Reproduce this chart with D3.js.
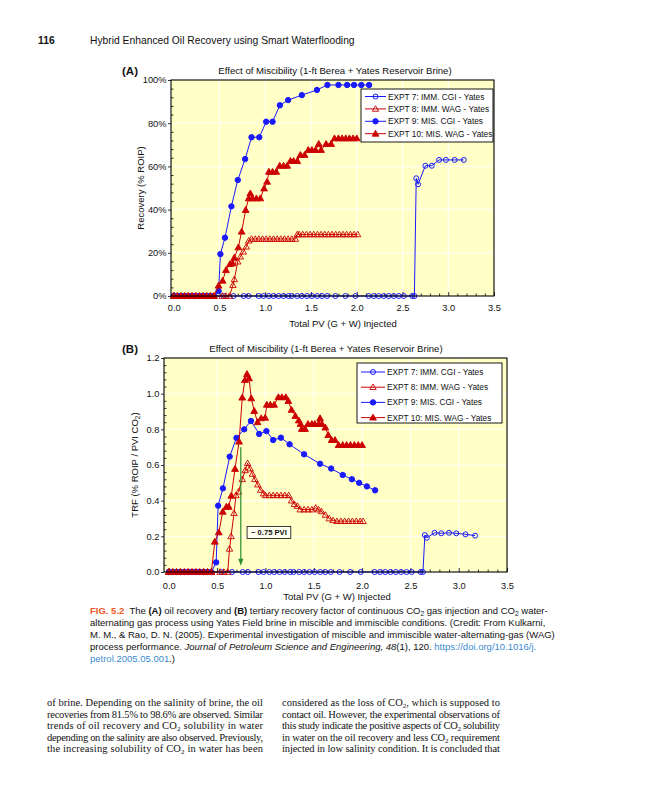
<!DOCTYPE html>
<html>
<head>
<meta charset="utf-8">
<script src="https://cdn.jsdelivr.net/npm/d3@7"></script>
<style>
body{margin:0;background:#fff;}
#page{position:relative;width:648px;height:800px;overflow:hidden;font-family:"Liberation Sans",Arial,sans-serif;color:#111;}
#fig{position:absolute;left:0;top:0;}
.hdr{position:absolute;top:35px;font-size:10.3px;white-space:nowrap;}
#caption{position:absolute;left:90px;top:605px;font-size:9.5px;line-height:11.9px;white-space:nowrap;}
#caption .fig{color:#ef5a28;font-weight:bold;}
#caption a{color:#3b8bd0;text-decoration:none;}
#caption sub{font-size:70%;vertical-align:-2px;line-height:0;}
</style>
</head>
<body>
<div id="page">
<svg id="fig" width="648" height="800"></svg>
<div class="hdr" style="left:38px;font-weight:bold;">116</div>
<div class="hdr" style="left:90px;">Hybrid Enhanced Oil Recovery using Smart Waterflooding</div>
<div id="caption">
<span class="fig">FIG. 5.2</span>&nbsp; The <b>(A)</b> oil recovery and <b>(B)</b> tertiary recovery factor of continuous CO<sub>2</sub> gas injection and CO<sub>2</sub> water-<br>
alternating gas process using Yates Field brine in miscible and immiscible conditions. (Credit: From Kulkarni,<br>
M. M., &amp; Rao, D. N. (2005). Experimental investigation of miscible and immiscible water-alternating-gas (WAG)<br>
process performance. <i>Journal of Petroleum Science and Engineering, 48</i>(1), 120. <a>https://doi.org/10.1016/j.</a><br>
<a>petrol.2005.05.001</a>.)
</div>
</div>
<script>
// legend labels
var seriesNames = ["EXPT 7: IMM. CGI - Yates", "EXPT 8: IMM. WAG - Yates", "EXPT 9: MIS. CGI - Yates", "EXPT 10: MIS. WAG - Yates"];

// tick labels
var pvTicks = [0, 0.5, 1.0, 1.5, 2.0, 2.5, 3.0, 3.5];
var recTicks = [0, 20, 40, 60, 80, 100];
var trfTicks = [0, 0.2, 0.4, 0.6, 0.8, 1.0, 1.2];

// EXPT 7 (immiscible CGI) - shared PV for both panels
var pv7 = [0, 0.04, 0.08, 0.12, 0.16, 0.20, 0.24, 0.28, 0.32, 0.36, 0.40, 0.44,
  0.545, 0.654, 0.764, 0.818, 0.928, 0.98, 1.04, 1.09, 1.147, 1.20, 1.256, 1.29, 1.35, 1.40, 1.457, 1.51,
  1.567, 1.62, 1.676, 1.767, 1.876, 1.986, 2.13, 2.186, 2.24, 2.295, 2.35, 2.405, 2.46, 2.514, 2.606, 2.63,
  2.65, 2.67, 2.75, 2.82, 2.90, 2.975, 3.07, 3.17];
var rec7 = [0, 0, 0, 0, 0, 0, 0, 0, 0, 0, 0, 0,
  0, 0, 0, 0, 0, 0, 0, 0, 0, 0, 0, 0, 0, 0, 0, 0,
  0, 0, 0, 0, 0, 0, 0, 0, 0, 0, 0, 0, 0, 0, 0, 0,
  54.5, 51.7, 60.3, 60.3, 63, 63, 63, 63];
var trf7 = [0, 0, 0, 0, 0, 0, 0, 0, 0, 0, 0, 0,
  0, 0, 0, 0, 0, 0, 0, 0, 0, 0, 0, 0, 0, 0, 0, 0,
  0, 0, 0, 0, 0, 0, 0, 0, 0, 0, 0, 0, 0, 0, 0, 0,
  0.207, 0.192, 0.22, 0.217, 0.22, 0.217, 0.211, 0.204];

// EXPT 9 (miscible CGI) - shared PV
var pv9 = [0, 0.04, 0.08, 0.12, 0.16, 0.20, 0.24, 0.28, 0.32, 0.36, 0.40, 0.44,
  0.49, 0.51, 0.56, 0.63, 0.70, 0.78, 0.85, 0.935, 1.01, 1.08, 1.16, 1.25, 1.40, 1.565, 1.68, 1.80, 1.895, 1.97, 2.05, 2.135];
var rec9 = [0, 0, 0, 0, 0, 0, 0, 0, 0, 0, 0, 0,
  2.3, 19.4, 27, 41.5, 53.7, 63.4, 73.5, 73.5, 80.7, 80.7, 88.3, 90.7, 93, 95.4, 97.7, 97.7, 97.7, 97.7, 97.7, 97.7];
var trf9 = [0, 0, 0, 0, 0, 0, 0, 0, 0, 0, 0, 0,
  0.054, 0.372, 0.469, 0.647, 0.752, 0.80, 0.847, 0.774, 0.79, 0.74, 0.753, 0.716, 0.66, 0.607, 0.58, 0.544, 0.52, 0.50, 0.48, 0.458];

// EXPT 8 (immiscible WAG) - recovery panel
var pvA8 = [0, 0.04, 0.08, 0.12, 0.16, 0.20, 0.24, 0.28, 0.32, 0.36, 0.40, 0.44, 0.53, 0.57, 0.61,
  0.647, 0.662, 0.70, 0.728, 0.76, 0.793, 0.82,
  0.85, 0.89, 0.93, 0.97, 1.01, 1.05, 1.09, 1.13, 1.17, 1.21, 1.25, 1.29, 1.33,
  1.35, 1.37, 1.41, 1.45, 1.49, 1.53, 1.57, 1.61, 1.65, 1.69, 1.73, 1.77, 1.81, 1.85, 1.89, 1.93, 1.97, 2.01];
var recA8 = [0, 0, 0, 0, 0, 0, 0, 0, 0, 0, 0, 0, 0, 0, 0,
  5, 7.7, 15.9, 18.2, 20.5, 22.8, 25.6,
  26.4, 26.4, 26.4, 26.4, 26.4, 26.4, 26.4, 26.4, 26.4, 26.4, 26.4, 26.4, 26.4,
  28.5, 28.5, 28.5, 28.5, 28.5, 28.5, 28.5, 28.5, 28.5, 28.5, 28.5, 28.5, 28.5, 28.5, 28.5, 28.5, 28.5, 28.5];

// EXPT 8 - TRF panel
var pvB8 = [0, 0.04, 0.08, 0.12, 0.16, 0.20, 0.24, 0.28, 0.32, 0.36, 0.40, 0.44, 0.53, 0.57, 0.61,
  0.628, 0.644, 0.675, 0.695, 0.72, 0.76, 0.79, 0.815, 0.84, 0.865, 0.89, 0.92, 0.95, 0.98,
  1.0, 1.04, 1.08, 1.12, 1.16, 1.20, 1.24, 1.27, 1.30, 1.33, 1.36, 1.40, 1.44, 1.48, 1.52, 1.55,
  1.58, 1.62, 1.66, 1.70, 1.74, 1.78, 1.82, 1.86, 1.90, 1.94, 1.98, 2.01];
var trfB8 = [0, 0, 0, 0, 0, 0, 0, 0, 0, 0, 0, 0, 0, 0, 0,
  0.13, 0.20, 0.33, 0.43, 0.45, 0.52, 0.57, 0.61, 0.58, 0.55, 0.52, 0.49, 0.46, 0.44,
  0.43, 0.43, 0.43, 0.43, 0.43, 0.43, 0.43, 0.40, 0.38, 0.37, 0.35, 0.35, 0.35, 0.35, 0.36, 0.35,
  0.34, 0.32, 0.30, 0.29, 0.285, 0.285, 0.285, 0.285, 0.285, 0.285, 0.285, 0.285];

// EXPT 10 (miscible WAG) - recovery panel
var pvA10 = [0, 0.04, 0.08, 0.12, 0.16, 0.20, 0.24, 0.28, 0.32, 0.36, 0.40, 0.44,
  0.49, 0.534, 0.571, 0.615, 0.643, 0.662, 0.706, 0.742, 0.786, 0.819, 0.837, 0.859, 0.903, 0.946,
  0.987, 1.02, 1.04, 1.08, 1.12, 1.158, 1.20, 1.24, 1.275, 1.31, 1.35, 1.384, 1.43, 1.47, 1.51, 1.55,
  1.585, 1.61, 1.665, 1.72, 1.757, 1.80, 1.84, 1.88, 1.92, 1.96, 2.0];
var recA10 = [0, 0, 0, 0, 0, 0, 0, 0, 0, 0, 0, 0,
  4.8, 7.1, 12, 14.8, 15.1, 17.7, 22.5, 29.8, 39.8, 45.2, 47.5, 45.2, 45.2, 45.2,
  49.8, 52.9, 57.5, 57.5, 57.5, 60.3, 60.3, 60.3, 62.5, 62.5, 62.5, 65.3, 65.3, 67.6, 67.6, 67.6,
  70.4, 67.6, 70.4, 70.4, 73, 73, 73, 73, 73, 73, 73];

// EXPT 10 - TRF panel
var pvB10 = [0, 0.04, 0.08, 0.12, 0.16, 0.20, 0.24, 0.28, 0.32, 0.36, 0.40, 0.44,
  0.476, 0.517, 0.558, 0.596, 0.62, 0.647, 0.685, 0.727, 0.76, 0.788, 0.809, 0.83, 0.853, 0.884, 0.918, 0.956,
  0.997, 1.014, 1.05, 1.09, 1.134, 1.17, 1.21, 1.237, 1.27, 1.31, 1.345, 1.363, 1.376, 1.41, 1.44, 1.48,
  1.51, 1.55, 1.565, 1.585, 1.62, 1.65, 1.685, 1.72, 1.757, 1.80, 1.84, 1.88, 1.92, 1.96, 2.0];
var trfB10 = [0, 0, 0, 0, 0, 0, 0, 0, 0, 0, 0, 0,
  0.17, 0.222, 0.338, 0.366, 0.366, 0.428, 0.578, 0.731, 0.978, 1.077, 1.11, 1.086, 0.974, 0.903, 0.84, 0.862,
  0.865, 0.938, 0.938, 0.938, 0.98, 0.98, 0.98, 0.959, 0.909, 0.875, 0.85, 0.83, 0.802, 0.802, 0.83, 0.83,
  0.83, 0.83, 0.862, 0.83, 0.81, 0.768, 0.74, 0.74, 0.712, 0.712, 0.712, 0.712, 0.712, 0.712, 0.712];

// "~ 0.75 PVI" marker in panel B
var pviArrow = {pv: 0.745, from: 0.70, to: 0.035, labelPV: 0.81, labelTRF: 0.205, text: "~ 0.75 PVI"};

// body text, two justified columns; {s:"2"} is a subscript
var bodyLeft = [
  ["of brine. Depending on the salinity of brine, the oil"],
  ["recoveries from 81.5% to 98.6% are observed. Similar"],
  ["trends of oil recovery and CO", {s: "2"}, " solubility in water"],
  ["depending on the salinity are also observed. Previously,"],
  ["the increasing solubility of CO", {s: "2"}, " in water has been"]
];
var bodyRight = [
  ["considered as the loss of CO", {s: "2"}, ", which is supposed to"],
  ["contact oil. However, the experimental observations of"],
  ["this study indicate the positive aspects of CO", {s: "2"}, " solubility"],
  ["in water on the oil recovery and less CO", {s: "2"}, " requirement"],
  ["injected in low salinity condition. It is concluded that"]
];

var BLUE = "#1a1aff", RED = "#cc0000";
var styles = [
  {color: BLUE, shape: "circle", filled: false},
  {color: RED, shape: "tri", filled: false},
  {color: BLUE, shape: "circle", filled: true},
  {color: RED, shape: "tri", filled: true}
];

function triPath(s){
  var h = s * Math.sqrt(3) / 2;
  return "M0," + (-2 * h / 3) + "L" + (s / 2) + "," + (h / 3) + "L" + (-s / 2) + "," + (h / 3) + "Z";
}

function marker(g, st, cx, cy){
  if (st.shape == "circle") {
    g.append("circle").attr("cx", cx).attr("cy", cy).attr("r", st.filled ? 2.7 : 2.5)
      .attr("fill", st.filled ? st.color : "none").attr("stroke", st.color).attr("stroke-width", 1);
  } else {
    g.append("path").attr("d", triPath(st.filled ? 6.8 : 6.4))
      .attr("transform", "translate(" + cx + "," + (cy + 0.5) + ")")
      .attr("fill", st.filled ? st.color : "none").attr("stroke", st.color).attr("stroke-width", 0.9);
  }
}

var svg = d3.select("#fig");
svg.attr("font-family", "Liberation Sans, Arial, sans-serif").attr("fill", "#111");

function drawPanel(p){
  var g = svg.append("g");
  var x = d3.scaleLinear().domain(p.xDomain).range(p.xRange);
  var y = d3.scaleLinear().domain(p.yDomain).range(p.yRange);
  var left = p.xRange[0], right = p.xRange[1], top = p.yRange[1], bottom = p.yRange[0];

  g.append("rect").attr("x", left).attr("y", top).attr("width", right - left).attr("height", bottom - top)
    .attr("fill", "#ffffc6");

  // white grid
  g.selectAll(".gx").data(pvTicks.filter(function(d){ return d > 0 && d < 3.5; })).enter().append("line")
    .attr("x1", function(d){ return x(d); }).attr("x2", function(d){ return x(d); })
    .attr("y1", top).attr("y2", bottom).attr("stroke", "#fff").attr("stroke-width", 1);
  g.selectAll(".gy").data(p.yTicks.slice(1, -1)).enter().append("line")
    .attr("x1", left).attr("x2", right).attr("y1", function(d){ return y(d); }).attr("y2", function(d){ return y(d); })
    .attr("stroke", "#fff").attr("stroke-width", 1);

  // axes
  var minorX = d3.range(0.1, 3.5, 0.1).filter(function(d){ return Math.abs(d * 2 - Math.round(d * 2)) > 0.01; });
  g.append("g").attr("transform", "translate(0," + bottom + ")")
    .call(d3.axisBottom(x).tickValues(pvTicks).tickFormat(d3.format(".1f")).tickSize(-4).tickPadding(p.xPad));
  g.append("g").attr("transform", "translate(0," + bottom + ")")
    .call(d3.axisBottom(x).tickValues(minorX).tickFormat("").tickSize(-2.5));
  g.append("g").attr("transform", "translate(" + left + ",0)")
    .call(d3.axisLeft(y).tickValues(p.yTicks).tickFormat(p.yFormat).tickSize(3).tickPadding(1.5));
  g.append("g").attr("transform", "translate(" + left + ",0)")
    .call(d3.axisLeft(y).tickValues(p.yMinor).tickFormat("").tickSize(-2.5));
  g.selectAll(".domain").remove();
  g.selectAll(".tick line").attr("stroke", "#000").attr("stroke-width", 0.8);
  g.selectAll(".tick text").attr("font-family", "Liberation Sans, Arial, sans-serif").attr("font-size", 9.3).attr("fill", "#111");

  // series
  p.series.forEach(function(s){
    var st = styles[s.style];
    var pts = s.pv.map(function(v, i){ return [x(v), y(s.val[i])]; });
    g.append("path").attr("d", d3.line()(pts)).attr("fill", "none").attr("stroke", st.color).attr("stroke-width", 1);
    var mg = g.append("g");
    pts.forEach(function(q){ marker(mg, st, q[0], q[1]); });
  });

  // frame
  g.append("rect").attr("x", left).attr("y", top).attr("width", right - left).attr("height", bottom - top)
    .attr("fill", "none").attr("stroke", "#000").attr("stroke-width", 1.1);

  // titles
  g.append("text").attr("x", p.titleX).attr("y", top - 6).attr("text-anchor", "middle")
    .attr("font-size", 9.6).text("Effect of Miscibility (1-ft Berea + Yates Reservoir Brine)");
  g.append("text").attr("x", 122).attr("y", top - 5).attr("font-size", 11.5).attr("font-weight", "bold").text(p.tag);
  g.append("text").attr("x", p.xLabelX).attr("y", bottom + p.xLabelDy).attr("text-anchor", "middle")
    .attr("font-size", 9.5).text("Total PV (G + W) Injected");
  var yl = g.append("text").attr("transform", "translate(" + p.yLabelX + "," + ((top + bottom) / 2) + ") rotate(-90)")
    .attr("text-anchor", "middle").attr("font-size", 9.5);
  yl.append("tspan").text(p.yLabel);
  if (p.yLabelSub) {
    yl.append("tspan").attr("font-size", 6.5).attr("dy", 2).text(p.yLabelSub);
    yl.append("tspan").attr("dy", -2).text(")");
  }

  if (p.arrow) {
    var a = p.arrow;
    g.append("line").attr("x1", x(a.pv)).attr("x2", x(a.pv)).attr("y1", y(a.from)).attr("y2", y(a.to) - 6)
      .attr("stroke", "#2d8a2d").attr("stroke-width", 1.2);
    g.append("path").attr("d", "M-2.6,-7L2.6,-7L0,0Z").attr("transform", "translate(" + x(a.pv) + "," + y(a.to) + ")")
      .attr("fill", "#2d8a2d");
    var ag = g.append("g");
    var lt = ag.append("text").attr("x", x(a.labelPV) + 4).attr("y", y(a.labelTRF))
      .attr("font-size", 7.6).attr("font-weight", "bold").text(a.text);
    var bb = lt.node().getBBox();
    ag.insert("rect", "text").attr("x", bb.x - 4).attr("y", bb.y - 2).attr("width", bb.width + 8).attr("height", bb.height + 3)
      .attr("fill", "#fffff0").attr("stroke", "#222").attr("stroke-width", 0.9);
  }

  // legend
  var L = p.legend;
  var lg = g.append("g");
  lg.append("rect").attr("x", L.x).attr("y", L.y).attr("width", L.w).attr("height", L.h)
    .attr("fill", "#fff").attr("stroke", "#000").attr("stroke-width", 0.9);
  seriesNames.forEach(function(name, i){
    var yy = L.y + L.first + i * L.step;
    lg.append("line").attr("x1", L.x + 4).attr("x2", L.x + 4 + L.line).attr("y1", yy).attr("y2", yy)
      .attr("stroke", styles[i].color).attr("stroke-width", 1);
    marker(lg, styles[i], L.x + 4 + L.line / 2, yy);
    lg.append("text").attr("x", L.x + 6 + L.line).attr("y", yy + 3).attr("font-size", L.font).text(name);
  });
}

drawPanel({
  tag: "(A)",
  xDomain: [-0.03, 3.5], xRange: [171, 494],
  yDomain: [0, 100], yRange: [296, 80],
  yTicks: recTicks, yMinor: d3.range(4, 100, 4).filter(function(d){ return d % 20 != 0; }),
  yFormat: function(d){ return d + "%"; },
  yLabel: "Recovery (% ROIP)", yLabelX: 144,
  titleX: 335, xLabelX: 343, xPad: 8, xLabelDy: 31,
  series: [
    {pv: pv7, val: rec7, style: 0},
    {pv: pvA8, val: recA8, style: 1},
    {pv: pv9, val: rec9, style: 2},
    {pv: pvA10, val: recA10, style: 3}
  ],
  legend: {x: 361, y: 89, w: 132, h: 53, first: 7.5, step: 12.4, line: 21, font: 8.3}
});

drawPanel({
  tag: "(B)",
  xDomain: [-0.05, 3.5], xRange: [164, 507],
  yDomain: [0, 1.2], yRange: [572, 358],
  yTicks: trfTicks, yMinor: d3.range(0.04, 1.2, 0.04).filter(function(d){ return Math.abs(d * 5 - Math.round(d * 5)) > 0.01; }),
  yFormat: d3.format(".1f"),
  yLabel: "TRF (% ROIP / PVI CO", yLabelSub: "2", yLabelX: 138,
  titleX: 326, xLabelX: 337, xPad: 10, xLabelDy: 28,
  series: [
    {pv: pv7, val: trf7, style: 0},
    {pv: pvB8, val: trfB8, style: 1},
    {pv: pv9, val: trf9, style: 2},
    {pv: pvB10, val: trfB10, style: 3}
  ],
  arrow: pviArrow,
  legend: {x: 357, y: 363, w: 145, h: 60, first: 9, step: 15.2, line: 24, font: 8.3}
});

// body text columns with fitted line length
function drawColumn(lines, x0, width){
  lines.forEach(function(segs, i){
    var t = svg.append("text").attr("x", x0).attr("y", 706 + i * 11.55)
      .attr("font-family", "Liberation Serif, Times New Roman, serif").attr("font-size", 10.5)
      .attr("textLength", width).attr("lengthAdjust", "spacing");
    var shift = 0;
    segs.forEach(function(sg){
      if (typeof sg == "string") {
        t.append("tspan").attr("dy", -shift).text(sg);
        shift = 0;
      } else {
        t.append("tspan").attr("font-size", 7).attr("dy", 2).text(sg.s);
        shift = 2;
      }
    });
  });
}
drawColumn(bodyLeft, 47, 216);
drawColumn(bodyRight, 282, 218);
</script>
</body>
</html>
